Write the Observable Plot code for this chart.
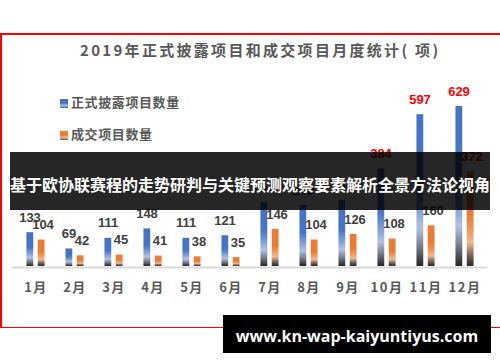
<!DOCTYPE html>
<html><head><meta charset="utf-8">
<script src="https://cdn.jsdelivr.net/npm/d3@7"></script>
<script src="https://cdn.jsdelivr.net/npm/@observablehq/plot@0.6"></script>
<style>
body{margin:0;background:#fff;}
#wrap{position:relative;width:500px;height:362px;overflow:hidden;font-family:"Noto Sans CJK SC","Noto Sans",sans-serif;}
#frame{position:absolute;left:0;top:33px;width:498px;height:292px;border-top:2px solid #ff0000;border-left:2px solid #ff0000;border-bottom:1px solid #ff0000;}
#chart{position:absolute;left:0;top:0;}
#chart svg g[aria-label="x-axis tick label"] text{letter-spacing:1.5px;}
#title{position:absolute;left:80px;top:40px;line-height:20px;font-size:15px;font-weight:bold;color:#595959;letter-spacing:2.3px;white-space:nowrap;}
.leg{position:absolute;left:60px;font-size:13px;font-weight:bold;color:#595959;letter-spacing:0.6px;line-height:16px;white-space:nowrap;}
.leg i{display:inline-block;width:8px;height:9px;margin-right:3px;vertical-align:-1px;}
#banner{position:absolute;left:10px;top:152px;width:480px;height:58px;background:rgba(0,0,0,0.85);}
#banner div{position:absolute;left:-20px;right:-20px;top:3px;line-height:58px;text-align:center;color:#fff;font-size:16px;font-weight:bold;white-space:nowrap;}
#wm{position:absolute;left:223px;top:315px;width:268px;height:38px;background:#000;}
#wm div{text-align:center;line-height:38px;margin-top:2px;color:#fff;font-family:"Open Sans",sans-serif;font-weight:bold;font-size:16px;white-space:nowrap;}
</style></head>
<body>
<div id="wrap">
  <div id="frame"></div>
  <div id="chart"></div>
  <div id="title"></div>
  <div class="leg" id="leg1" style="top:94px"></div>
  <div class="leg" id="leg2" style="top:126px"></div>
  <div id="banner"><div></div></div>
  <div id="wm"><div></div></div>
</div>
<script>
const titleText = "2019年正式披露项目和成交项目月度统计( 项)";
const seriesNames = ["正式披露项目数量", "成交项目数量"];
const bannerText = "基于欧协联赛程的走势研判与关键预测观察要素解析全景方法论视角";
const watermarkText = "www.kn-wap-kaiyuntiyus.com";
const months = ["1月","2月","3月","4月","5月","6月","7月","8月","9月","10月","11月","12月"];
const disclosed = [133, 69, 111, 148, 111, 121, 252, 240, 260, 384, 597, 629];
const deals = [104, 42, 45, 41, 38, 35, 146, 104, 126, 108, 160, 372];

const rowsA = months.map((m, i) => ({month: m, value: disclosed[i]}));
const rowsB = months.map((m, i) => ({month: m, value: deals[i]}));
const labelColor = v => v > 300 ? "#ff0000" : "#404040";

const chart = Plot.plot({
  width: 500, height: 362,
  marginTop: 88, marginBottom: 96, marginLeft: 12.25, marginRight: 12.55,
  x: {type: "band", domain: months, paddingInner: 0, paddingOuter: 0, axis: null},
  y: {domain: [0, 700], axis: null},
  color: {type: "identity"},
  style: {background: "transparent", fontFamily: "'Liberation Sans', Arial, sans-serif", overflow: "visible"},
  marks: [
    Plot.ruleY([0], {stroke: "#d9d9d9", strokeWidth: 2, dy: 1}),
    Plot.barY(rowsA, {x: "month", y: "value", fill: "url(#gBlue)", insetLeft: 10.45, insetRight: 21.75}),
    Plot.barY(rowsB, {x: "month", y: "value", fill: "url(#gOrange)", insetLeft: 21.75, insetRight: 10.45}),
    Plot.text(rowsA, {x: "month", y: "value", text: d => String(d.value), dx: -6, dy: -15,
      fill: d => labelColor(d.value), fontSize: 13, fontWeight: "bold"}),
    Plot.text(rowsB, {x: "month", y: "value", text: d => String(d.value), dx: 7, dy: -15,
      fill: d => labelColor(d.value), fontSize: 13, fontWeight: "bold"}),
    Plot.axisX({tickSize: 0, tickPadding: 16, fontSize: 13, fontWeight: "bold", color: "#595959",
      fontFamily: "'Noto Sans CJK SC', sans-serif", label: null})
  ]
});

const ns = "http://www.w3.org/2000/svg";
const defs = document.createElementNS(ns, "defs");
defs.innerHTML = `
<linearGradient id="gBlue" x1="0" y1="0" x2="0" y2="1">
  <stop offset="0" stop-color="#4472c4"/><stop offset="0.45" stop-color="#4674c6"/>
  <stop offset="0.62" stop-color="#7f9fd6"/><stop offset="0.75" stop-color="#b0c2e2"/>
  <stop offset="0.86" stop-color="#7d8595"/><stop offset="1" stop-color="#262626"/>
</linearGradient>
<linearGradient id="gOrange" x1="0" y1="0" x2="0" y2="1">
  <stop offset="0" stop-color="#ed7d31"/><stop offset="0.45" stop-color="#ea7b30"/>
  <stop offset="0.62" stop-color="#eb9a60"/><stop offset="0.75" stop-color="#f4b890"/>
  <stop offset="0.86" stop-color="#8b7464"/><stop offset="1" stop-color="#2b2624"/>
</linearGradient>`;
chart.insertBefore(defs, chart.firstChild);
document.getElementById("chart").appendChild(chart);

document.getElementById("title").textContent = titleText;
document.getElementById("leg1").innerHTML = '<i style="background:linear-gradient(#4472c4 0%,#4472c4 45%,#a8bde0 70%,#5a6a88 100%)"></i>' + seriesNames[0];
document.getElementById("leg2").innerHTML = '<i style="background:linear-gradient(#ed7d31 0%,#ed7d31 45%,#f4b890 70%,#7a6050 100%)"></i>' + seriesNames[1];
document.querySelector("#banner div").textContent = bannerText;
document.querySelector("#wm div").textContent = watermarkText;
</script>
</body></html>
